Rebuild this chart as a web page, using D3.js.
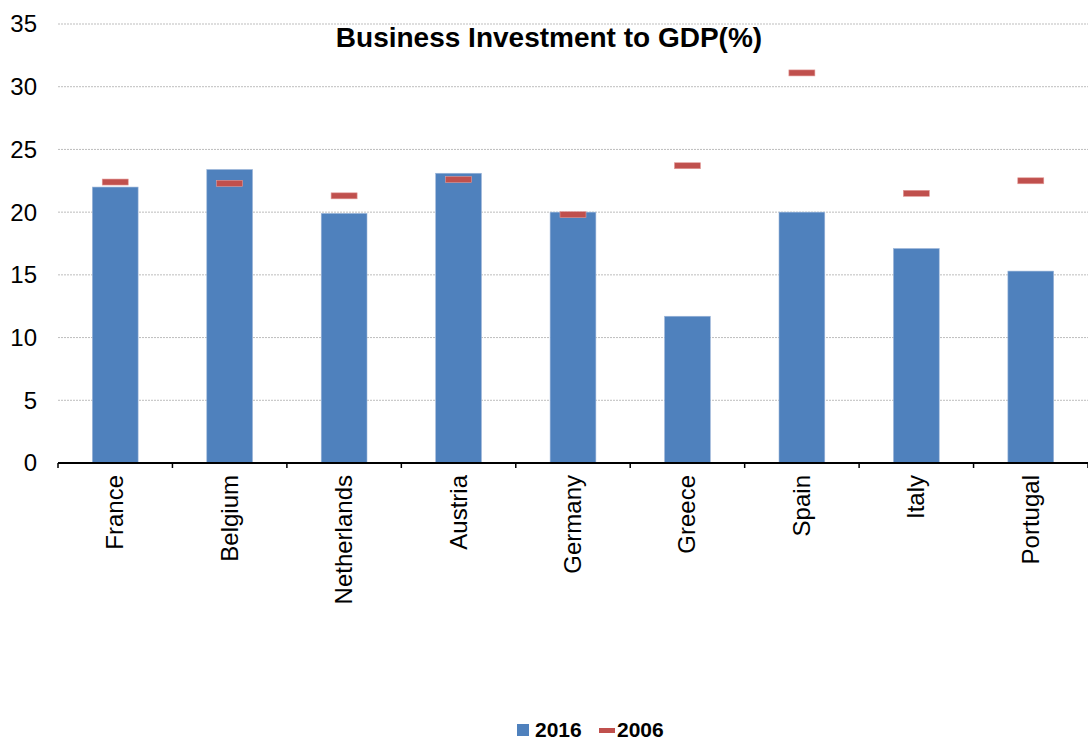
<!DOCTYPE html>
<html>
<head>
<meta charset="utf-8">
<script src="https://cdn.jsdelivr.net/npm/d3@7"></script>
<style>
  body { margin: 0; background: #fff; }
  svg { font-family: "Liberation Sans", Arial, sans-serif; }
</style>
</head>
<body>
<svg id="vis" width="1088" height="740"></svg>
<script>
// data
const countries = ["France", "Belgium", "Netherlands", "Austria", "Germany", "Greece", "Spain", "Italy", "Portugal"];
const val2016 = [22.0, 23.4, 19.9, 23.1, 20.0, 11.7, 20.0, 17.1, 15.3];
const val2006 = [22.4, 22.3, 21.3, 22.6, 19.8, 23.7, 31.1, 21.5, 22.5];
const yTicks = [0, 5, 10, 15, 20, 25, 30, 35];

const blue = "#4F81BD", red = "#C0504D";

var margin = {top: 24, right: 0, bottom: 277, left: 58},
    width = 1088 - margin.left - margin.right,
    height = 740 - margin.top - margin.bottom;

var svg = d3.select("#vis")
    .append("g")
    .attr("transform", "translate(" + margin.left + "," + margin.top + ")");

var x = d3.scaleBand()
    .domain(countries)
    .range([0, width])
    .paddingInner(0)
    .paddingOuter(0);

var y = d3.scaleLinear()
    .domain([0, 35])
    .range([height, 0]);

// gridlines
svg.selectAll(".grid")
    .data(yTicks.filter(d => d > 0))
    .enter()
    .append("line")
    .attr("x1", 0)
    .attr("x2", width)
    .attr("y1", d => y(d))
    .attr("y2", d => y(d))
    .attr("stroke", "#bdbdbd")
    .attr("stroke-width", 1)
    .attr("stroke-dasharray", "2,1");

// y labels (no axis line)
svg.selectAll(".ylab")
    .data(yTicks)
    .enter()
    .append("text")
    .attr("x", -21)
    .attr("y", d => y(d))
    .attr("dy", "0.35em")
    .attr("text-anchor", "end")
    .style("font-size", "24px")
    .attr("fill", "#000")
    .text(d => d);

// bars 2016
var barW = x.bandwidth() * 0.4;
svg.selectAll(".bar")
    .data(countries)
    .enter()
    .append("rect")
    .attr("x", d => x(d) + x.bandwidth() / 2 - barW / 2)
    .attr("y", (d, i) => y(val2016[i]))
    .attr("width", barW)
    .attr("height", (d, i) => height - y(val2016[i]))
    .attr("fill", blue)
    .attr("stroke", "#9db7da")
    .attr("stroke-width", 0.6);

// 2006 markers
var markW = 26, markH = 6;
svg.selectAll(".mark")
    .data(countries)
    .enter()
    .append("rect")
    .attr("x", d => x(d) + x.bandwidth() / 2 - markW / 2)
    .attr("y", (d, i) => y(val2006[i]) - markH / 2)
    .attr("width", markW)
    .attr("height", markH)
    .attr("fill", red)
    .attr("stroke", "#e39a98")
    .attr("stroke-width", 0.6);

// x axis
var xAxis = svg.append("g")
    .attr("transform", "translate(0," + height + ")");
xAxis.append("line")
    .attr("x1", 0).attr("x2", width)
    .attr("stroke", "#000").attr("stroke-width", 2);
xAxis.selectAll(".tick")
    .data(d3.range(countries.length + 1))
    .enter()
    .append("line")
    .attr("x1", i => i * x.bandwidth())
    .attr("x2", i => i * x.bandwidth())
    .attr("y1", 0)
    .attr("y2", 5)
    .attr("stroke", "#000")
    .attr("stroke-width", 1.5);
xAxis.selectAll(".xlab")
    .data(countries)
    .enter()
    .append("text")
    .attr("transform", d => "translate(" + (x(d) + x.bandwidth() / 2 + 8) + ",12) rotate(-90)")
    .attr("text-anchor", "end")
    .style("font-size", "24px")
    .attr("fill", "#000")
    .text(d => d);

// title
d3.select("#vis").append("text")
    .attr("x", 549)
    .attr("y", 47)
    .attr("text-anchor", "middle")
    .style("font-size", "28px")
    .style("font-weight", "bold")
    .text("Business Investment to GDP(%)");

// legend
var leg = d3.select("#vis").append("g");
leg.append("rect")
    .attr("x", 517).attr("y", 724)
    .attr("width", 12).attr("height", 12)
    .attr("fill", blue);
leg.append("text")
    .attr("x", 535).attr("y", 737)
    .style("font-size", "21px").style("font-weight", "bold")
    .text("2016");
leg.append("rect")
    .attr("x", 599).attr("y", 728)
    .attr("width", 16).attr("height", 5)
    .attr("fill", red);
leg.append("text")
    .attr("x", 617).attr("y", 737)
    .style("font-size", "21px").style("font-weight", "bold")
    .text("2006");
</script>
</body>
</html>
